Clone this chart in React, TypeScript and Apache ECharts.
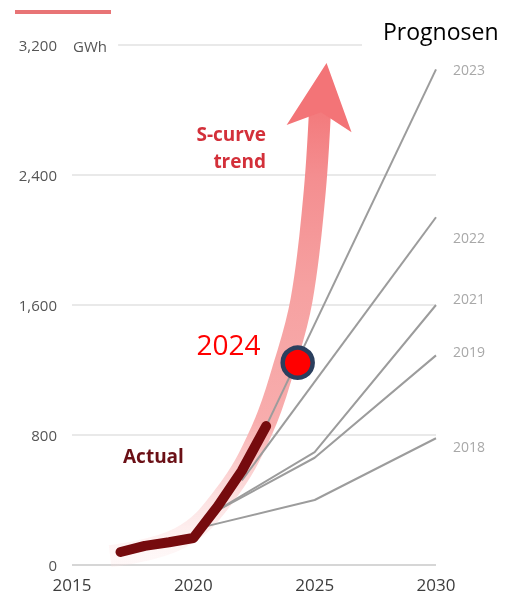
import React, { useEffect, useRef } from "react";
import * as echarts from "echarts";

// Actual installed capacity (GWh)
const actualYears = [2017, 2018, 2019, 2020, 2021, 2022, 2023];
const actualValues = [80, 118, 140, 166, 360, 580, 855];

// S-curve trend band (centre line)
const trendYears = [2016.57, 2019.45, 2021.3, 2022.83, 2023.78, 2024.46, 2024.97, 2025.22];
const trendValues = [55, 166, 431, 831, 1243, 1631, 2246, 2800];
const arrowTip = [2025.49, 3089];

// Forecasts (Prognosen) by publication year
const forecastNames = ["2018", "2019", "2021", "2022", "2023"];
const forecastYears = [
  [2020.3, 2025, 2030],
  [2020.8, 2025, 2030],
  [2020.8, 2025, 2030],
  [2022, 2030],
  [2023, 2030],
];
const forecastValues = [
  [230, 400, 780],
  [320, 660, 1290],
  [320, 695, 1600],
  [520, 2140],
  [855, 3050],
];
const forecastLabelDy = [8, -4, -7, 20, 0];

// 2024 marker
const markerYear = 2024.3;
const markerValue = 1245;
const markerLabel = "2024";

// Axis ticks
const xTicks = [2015, 2020, 2025, 2030];
const yTicks = [0, 800, 1600, 2400, 3200];

const FONT = "'Open Sans', 'Noto Sans', sans-serif";

export default function App() {
  const ref = useRef<HTMLDivElement>(null);
  useEffect(() => {
    if (!ref.current) return;
    const chart = echarts.init(ref.current, undefined, { renderer: "svg" });
    const zip = (xs: number[], ys: number[]) => xs.map((x, i) => [x, ys[i]]);

    const forecastSeries = forecastNames.map((name, i) => ({
      type: "line",
      name,
      data: zip(forecastYears[i], forecastValues[i]),
      symbol: "none",
      z: 3,
      lineStyle: { color: "#9c9c9c", width: 2 },
      endLabel: {
        show: true,
        formatter: name,
        color: "#a8a8a8",
        fontSize: 14,
        fontFamily: FONT,
        distance: 17,
        offset: [0, forecastLabelDy[i]],
      },
    }));

    chart.setOption({
      animation: false,
      textStyle: { fontFamily: FONT },
      grid: { left: 72, right: 78, top: 45, bottom: 33 },
      xAxis: {
        type: "value",
        min: xTicks[0],
        max: xTicks[xTicks.length - 1],
        interval: 5,
        axisLine: { show: false },
        axisTick: { show: false },
        splitLine: { show: false },
        axisLabel: {
          fontSize: 17,
          color: "#3d3d3d",
          margin: 11,
          fontFamily: FONT,
          formatter: (v: number) => String(v),
        },
      },
      yAxis: {
        type: "value",
        min: yTicks[0],
        max: yTicks[yTicks.length - 1],
        interval: 800,
        axisLine: { show: false },
        axisTick: { show: false },
        axisLabel: { fontSize: 15, color: "#555", margin: 15, fontFamily: FONT },
        splitLine: {
          lineStyle: {
            color: ["#c9c9c9", "#e2e2e2", "#e2e2e2", "#e2e2e2", "rgba(0,0,0,0)"],
            width: 1.5,
          },
        },
      },
      series: [
        {
          type: "line",
          name: "S-curve trend",
          data: zip(trendYears, trendValues),
          symbol: "none",
          smooth: 0.4,
          z: 1,
          lineStyle: {
            width: 22,
            cap: "butt",
            color: new echarts.graphic.LinearGradient(0, 1, 0, 0, [
              { offset: 0, color: "rgba(253,225,225,0.25)" },
              { offset: 0.17, color: "rgba(250,196,196,0.7)" },
              { offset: 0.3, color: "#f8adad" },
              { offset: 0.6, color: "#f6a1a1" },
              { offset: 0.85, color: "#f48e90" },
              { offset: 1, color: "#f37a7c" },
            ]),
          },
          markLine: {
            silent: true,
            symbol: "none",
            label: { show: false },
            lineStyle: { color: "#e2e2e2", width: 1.5, type: "solid" },
            data: [[{ coord: [2016.9, yTicks[4]] }, { coord: [2026.95, yTicks[4]] }]],
          },
        },
        {
          type: "scatter",
          name: "arrow",
          data: [arrowTip],
          symbol: "arrow",
          symbolSize: [49, 66],
          symbolRotate: -6.5,
          z: 1,
          itemStyle: { color: "#f37477", opacity: 1 },
        },
        ...forecastSeries,
        {
          type: "line",
          name: "Actual",
          data: zip(actualYears, actualValues),
          symbol: "none",
          z: 4,
          lineStyle: { color: "#760b0e", width: 10, cap: "round", join: "round" },
        },
        {
          type: "scatter",
          name: "marker",
          data: [[markerYear, markerValue]],
          symbol: "circle",
          symbolSize: 30,
          z: 6,
          itemStyle: { color: "#ff0000", borderColor: "#2b3f5e", borderWidth: 4.5, opacity: 1 },
          label: {
            show: true,
            formatter: markerLabel,
            position: "left",
            distance: 20,
            offset: [0, -19],
            color: "#ff0000",
            fontSize: 28,
            fontFamily: FONT,
          },
        },
      ],
      graphic: [
        { type: "rect", left: 15, top: 10, shape: { width: 96, height: 4 }, style: { fill: "#e87476" } },
        {
          type: "text",
          x: 73,
          y: 46,
          style: { text: "GWh", font: `15px ${FONT}`, fill: "#555", verticalAlign: "middle", align: "left" },
        },
        {
          type: "text",
          x: 383,
          y: 31,
          style: { text: "Prognosen", font: `23px ${FONT}`, fill: "#000", verticalAlign: "middle", align: "left" },
        },
        {
          type: "text",
          x: 266,
          y: 120,
          z: 10,
          style: {
            text: "S-curve\ntrend",
            font: `bold 19px ${FONT}`,
            lineHeight: 27,
            fill: "#d3303a",
            align: "right",
            verticalAlign: "top",
          },
        },
        {
          type: "text",
          x: 123,
          y: 456,
          z: 10,
          style: { text: "Actual", font: `bold 19px ${FONT}`, fill: "#6b1016", verticalAlign: "middle", align: "left" },
        },
      ],
    });
    return () => chart.dispose();
  }, []);
  return <div ref={ref} style={{ position: "fixed", left: 0, top: 0, width: 514, height: 598 }} />;
}
